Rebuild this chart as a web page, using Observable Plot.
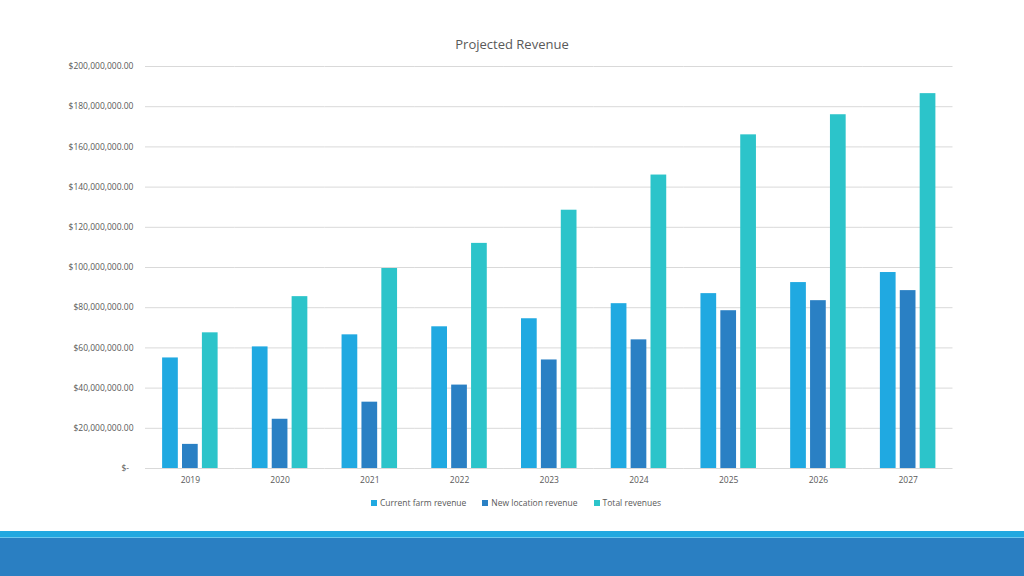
<!DOCTYPE html>
<html>
<head>
<meta charset="utf-8">
<script src="https://cdn.jsdelivr.net/npm/d3@7"></script>
<script src="https://cdn.jsdelivr.net/npm/@observablehq/plot@0.6"></script>
<style>
  html, body { margin: 0; padding: 0; background: #fff; }
  #page { position: relative; width: 1024px; height: 576px; overflow: hidden; font-family: "Open Sans", "Liberation Sans", sans-serif; color: #595959; }
  #title { position: absolute; top: 35px; left: 0; width: 1024px; text-align: center; font-size: 13px; color: #595959; }
  #chart { position: absolute; top: 56px; left: 0; }
  #legend { position: absolute; top: 497px; left: 4px; width: 1024px; display: flex; justify-content: center; gap: 16px; font-size: 8.5px; color: #595959; }
  #legend .item { display: flex; align-items: center; gap: 3px; }
  #legend .sw { width: 6px; height: 6px; display: inline-block; }
  #band1 { position: absolute; top: 531px; left: 0; width: 1024px; height: 6px; background: #22A8E0; }
  #band2 { position: absolute; top: 537px; left: 0; width: 1024px; height: 1px; background: #6CC6EE; }
  #band3 { position: absolute; top: 538px; left: 0; width: 1024px; height: 38px; background: #2A7FC2; }
</style>
</head>
<body>
<div id="page">
  <div id="title">Projected Revenue</div>
  <div id="chart"></div>
  <div id="legend"></div>
  <div id="band1"></div><div id="band2"></div><div id="band3"></div>
</div>
<script>
const years = ["2019","2020","2021","2022","2023","2024","2025","2026","2027"];
const seriesNames = ["Current farm revenue","New location revenue","Total revenues"];
const seriesColors = ["#20A9E1","#2A80C4","#2CC4CA"];
const currentFarm = [55e6, 60.5e6, 66.5e6, 70.5e6, 74.5e6, 82e6, 87e6, 92.5e6, 97.5e6];
const newLocation = [12e6, 24.5e6, 33e6, 41.5e6, 54e6, 64e6, 78.5e6, 83.5e6, 88.5e6];
const totalRevenues = [67.5e6, 85.5e6, 99.5e6, 112e6, 128.5e6, 146e6, 166e6, 176e6, 186.5e6];
const yTicks = [0, 20e6, 40e6, 60e6, 80e6, 100e6, 120e6, 140e6, 160e6, 180e6, 200e6];

const seriesValues = [currentFarm, newLocation, totalRevenues];
const data = [];
years.forEach((yr, i) => {
  seriesNames.forEach((s, j) => data.push({year: yr, series: s, value: seriesValues[j][i]}));
});

const fmt = v => v === 0 ? "$-\u00a0\u00a0" : "$" + d3.format(",.2f")(v);

const chart = Plot.plot({
  width: 1024,
  height: 442,
  marginLeft: 145,
  marginRight: 71.5,
  marginTop: 10,
  marginBottom: 30,
  style: {fontFamily: "'Open Sans', 'Liberation Sans', sans-serif", fontSize: "8.5px", color: "#595959", background: "transparent"},
  fx: {domain: years, padding: 0, round: false, label: null, axis: "bottom", tickSize: 0, tickPadding: 8},
  x: {domain: seriesNames, paddingInner: 0.21, paddingOuter: 0.86, round: false, axis: null},
  y: {domain: [0, 200e6], ticks: yTicks, tickFormat: fmt, tickSize: 0, tickPadding: 12, label: null},
  color: {domain: seriesNames, range: seriesColors},
  marks: [
    Plot.ruleY(yTicks, {stroke: "#D9D9D9", strokeWidth: 1}),
    Plot.barY(data, {fx: "year", x: "series", y: "value", fill: "series"})
  ]
});
document.getElementById("chart").appendChild(chart);

const legend = document.getElementById("legend");
seriesNames.forEach((s, i) => {
  const item = document.createElement("div");
  item.className = "item";
  const sw = document.createElement("span");
  sw.className = "sw";
  sw.style.background = seriesColors[i];
  const t = document.createElement("span");
  t.textContent = s;
  item.appendChild(sw); item.appendChild(t);
  legend.appendChild(item);
});
</script>
</body>
</html>
